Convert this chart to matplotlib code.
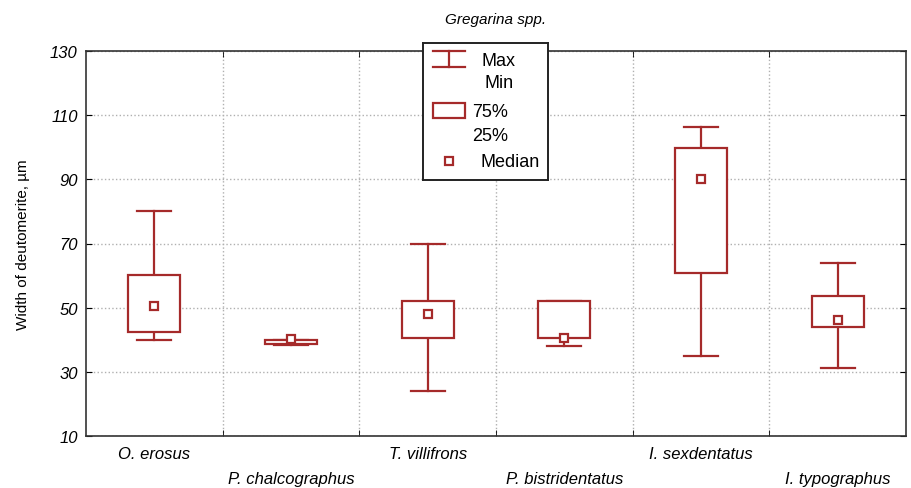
import matplotlib.pyplot as plt
import numpy as np
from matplotlib.patches import Rectangle

plt.rcParams["font.family"] = ["Liberation Sans", "DejaVu Sans"]

species = ["O. erosus", "P. chalcographus", "T. villifrons",
           "P. bistridentatus", "I. sexdentatus", "I. typographus"]
max_vals = [80.0, 40.0, 70.0, 52.2, 106.2, 64.0]
min_vals = [40.0, 38.3, 24.0, 38.1, 34.9, 31.1]
q3_vals = [60.2, 40.0, 52.0, 52.2, 99.9, 53.5]
q1_vals = [42.5, 38.7, 40.5, 40.5, 60.8, 43.9]
medians = [50.5, 40.3, 48.0, 40.4, 90.1, 46.2]
y_ticks = [10, 30, 50, 70, 90, 110, 130]
legend_labels = ["Max", "Min", "75%", "25%", "Median"]

RED = "#a52a2a"
LW = 1.6

fig = plt.figure(figsize=(9.11, 4.89), dpi=100)
ax = fig.add_axes([86 / 911, 1 - 437 / 489, 820 / 911, 385 / 489])

x = np.arange(len(species))
box_w = 0.38
cap_w = 0.25
for xi, lo, hi, q1, q3, med in zip(x, min_vals, max_vals, q1_vals, q3_vals, medians):
    ax.plot([xi, xi], [q3, hi], color=RED, lw=LW, zorder=3)
    ax.plot([xi, xi], [lo, q1], color=RED, lw=LW, zorder=3)
    ax.plot([xi - cap_w / 2, xi + cap_w / 2], [hi, hi], color=RED, lw=LW, zorder=3)
    ax.plot([xi - cap_w / 2, xi + cap_w / 2], [lo, lo], color=RED, lw=LW, zorder=3)
    ax.add_patch(Rectangle((xi - box_w / 2, q1), box_w, q3 - q1, facecolor="white",
                           edgecolor=RED, lw=LW, zorder=4))
ax.plot(x, medians, ls="none", marker="s", ms=6, mfc="white", mec=RED, mew=LW, zorder=5)

ax.set_xlim(-0.5, len(species) - 0.5)
ax.set_ylim(10, 130)
ax.set_yticks(y_ticks)
ax.set_yticklabels([str(v) for v in y_ticks], fontsize=12, style="italic")
ax.set_xticks(x)
ax.set_xticklabels(species, fontsize=12, style="italic")
ax.set_xticks(np.arange(0.5, len(species) - 0.5, 1.0), minor=True)
ax.tick_params(axis="x", which="major", length=0)
ax.tick_params(axis="x", which="minor", direction="in", length=4, top=True)
ax.tick_params(axis="y", direction="in", length=4, right=True, pad=6)
for i, tick in enumerate(ax.xaxis.get_major_ticks()):
    tick.set_pad(7 if i % 2 == 0 else 25)

ax.grid(True, which="minor", axis="x", color="#b0b0b0", ls=":", lw=1)
ax.grid(True, which="major", axis="y", color="#b0b0b0", ls=":", lw=1)
for s in ax.spines.values():
    s.set_linewidth(1.2)
    s.set_color("#333333")

ax.set_ylabel("Width of deutomerite, µm", fontsize=11, labelpad=14)
ax.set_title("Gregarina spp.", fontsize=11, style="italic", pad=20)

# legend box drawn by hand (pixel-like coordinates inside the box)
lg = fig.add_axes([423 / 911, 1 - 181 / 489, 125 / 911, 137 / 489], zorder=10)
lg.set_xlim(0, 125)
lg.set_ylim(137, 0)
lg.set_xticks([])
lg.set_yticks([])
for s in lg.spines.values():
    s.set_linewidth(1.4)
    s.set_color("#222222")
lg.plot([10, 42], [8, 8], color=RED, lw=LW)
lg.plot([26, 26], [8, 24], color=RED, lw=LW)
lg.plot([10, 42], [24, 24], color=RED, lw=LW)
lg.add_patch(Rectangle((10, 60), 32, 15, facecolor="white", edgecolor=RED, lw=LW))
lg.plot([26], [118], ls="none", marker="s", ms=6, mfc="white", mec=RED, mew=LW)
text_pos = [(76, 17), (76, 39), (67, 69), (67, 93), (87, 119)]
for (tx, ty), lab in zip(text_pos, legend_labels):
    lg.text(tx, ty, lab, fontsize=13, ha="center", va="center")

fig.savefig("out.png", dpi=100)
